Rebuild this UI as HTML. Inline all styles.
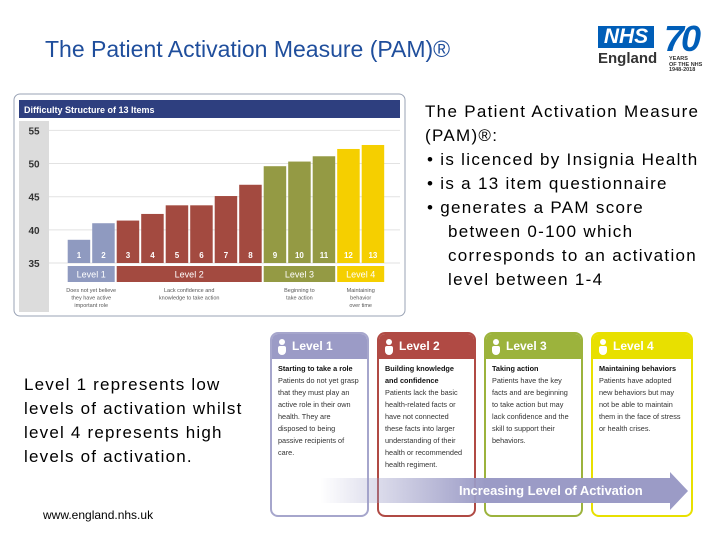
<!DOCTYPE html>
<html><head><meta charset="utf-8"><style>
body{margin:0;width:720px;height:540px;background:#fff;position:relative;overflow:hidden;font-family:"Liberation Sans",sans-serif}
.abs{position:absolute}
.card{position:absolute;top:332px;height:185px;width:99px;border:2px solid;border-radius:8px;box-sizing:border-box;background:#fff;overflow:hidden}
.card .hd{height:25px;color:#fff;font-weight:bold;font-size:12px;line-height:25px;padding-left:20px;position:relative}
.card .hd:before{content:"";position:absolute;left:7px;top:5px;width:6px;height:6px;border-radius:3px;background:#fff}
.card .hd:after{content:"";position:absolute;left:6px;top:12px;width:8px;height:9px;border-radius:2px 2px 4px 4px;background:#fff}
.card .bd{padding:4px 6px;font-size:7.3px;line-height:12px;color:#333}
.card .bd b{color:#111}
.ind{display:block;padding-left:21px}
</style></head><body>
<div class="abs" style="left:45px;top:36px;font-size:23px;color:#1f4e9c">The Patient Activation Measure (PAM)®</div>
<div class="abs" style="left:598px;top:26px;width:56px;height:22px;background:#005eb8;color:#fff;font-weight:bold;font-style:italic;font-size:21px;line-height:22px;text-align:center">NHS</div>
<div class="abs" style="left:598px;top:50px;font-size:15px;font-weight:bold;color:#333">England</div>
<div class="abs" style="left:664px;top:18px;font-size:36px;font-weight:bold;font-style:italic;color:#005eb8;letter-spacing:-3px">70</div>
<div class="abs" style="left:669px;top:57px;font-size:5.5px;line-height:5.5px;color:#333;font-weight:bold">YEARS<br>OF THE NHS<br>1948-2018</div>

<div class="abs" style="left:425px;top:100px;font-size:17px;line-height:24px;color:#000;white-space:nowrap;letter-spacing:1.3px">The Patient Activation Measure<br>(PAM)®:
<div style="padding-left:2px">•&nbsp;is licenced by Insignia Health</div>
<div style="padding-left:2px">•&nbsp;is a 13 item questionnaire</div>
<div style="padding-left:2px">•&nbsp;generates a PAM score<span class="ind">between 0-100 which</span><span class="ind">corresponds to an activation</span><span class="ind">level between 1-4</span></div></div>

<div class="abs" style="left:24px;top:373px;font-size:17px;line-height:24px;color:#000;white-space:nowrap;letter-spacing:1.2px">Level 1 represents low<br>levels of activation whilst<br>level 4 represents high<br>levels of activation.</div>
<div class="abs" style="left:43px;top:508px;font-size:12px;color:#000">www.england.nhs.uk</div>

<svg class="abs" style="left:0;top:0" width="720" height="540">
<rect x="14" y="94" width="391" height="222" rx="6" fill="#fff" stroke="#9aa3b5" stroke-width="1"/>
<rect x="19" y="100" width="381" height="18" fill="#2e3f7f"/>
<text x="24" y="113" fill="#fff" font-size="9" font-weight="bold">Difficulty Structure of 13 Items</text>
<rect x="19" y="121" width="30" height="191" fill="#dcdcdc"/>
<g id="grid"></g><g id="bars"></g><g id="levels"></g>
</svg>
<script>
const items=[1,2,3,4,5,6,7,8,9,10,11,12,13];
const values=[38.5,41,41.4,42.4,43.7,43.7,45.1,46.8,49.6,50.3,51.1,52.2,52.8];
const itemLevel=[1,1,2,2,2,2,2,2,3,3,3,4,4];
const yTicks=[35,40,45,50,55];
const levelNames=["Level 1","Level 2","Level 3","Level 4"];
const levelCaptions=[["Does not yet believe","they have active","important role"],["Lack confidence and","knowledge to take action"],["Beginning to","take action"],["Maintaining","behavior","over time"]];
const ns="http://www.w3.org/2000/svg";
const colors=["#8f9ac0","#a34a40","#949a44","#f5cf00"];
const y=v=>263-(v-35)*6.63;
const x=i=>67.7+i*24.5;
const bw=22.5;
function mk(t,a,p){const e=document.createElementNS(ns,t);for(const k in a)e.setAttribute(k,a[k]);p.appendChild(e);return e;}
const grid=document.getElementById('grid'),bars=document.getElementById('bars'),lv=document.getElementById('levels');
yTicks.forEach(t=>{
 const l=mk('line',{x1:49,x2:400,y1:y(t),y2:y(t),stroke:'#e2e2e2'},grid);
 
 
 const tx=mk('text',{x:34,y:y(t)+4,'font-size':10,'text-anchor':'middle',fill:'#333','font-weight':'bold'},grid);tx.textContent=t;
 
 
});
values.forEach((v,i)=>{
 const r=mk('rect',{x:x(i),y:y(v),width:bw,height:y(35)-y(v),fill:colors[itemLevel[i]-1]},bars);
 
 
 const t=mk('text',{x:x(i)+bw/2,y:y(35)-5,'font-size':8,'text-anchor':'middle',fill:'#fff','font-weight':'bold'},bars);t.textContent=items[i];
 
 
});
levelNames.forEach((n,li)=>{
 const idx=itemLevel.map((l,i)=>l===li+1?i:-1).filter(i=>i>=0);
 const x0=x(idx[0]),x1=x(idx[idx.length-1])+bw;
 const r=mk('rect',{x:x0,y:266,width:x1-x0,height:16,fill:colors[li]},lv);
 
 
 const t=mk('text',{x:(x0+x1)/2,y:277.5,'font-size':9,'text-anchor':'middle',fill:'#fff'},lv);t.textContent=n;
 
 
 levelCaptions[li].forEach((c,ci)=>{
  const ct=mk('text',{x:(x0+x1)/2,y:292+ci*7.5,'font-size':5.5,'text-anchor':'middle',fill:'#555'},lv);ct.textContent=c;
  
  
 });
});
</script>

<div class="card" style="left:270px;border-color:#a6a6cc"><div class="hd" style="background:#9b9bc6">Level 1</div><div class="bd"><b>Starting to take a role</b><br>Patients do not yet grasp that they must play an active role in their own health. They are disposed to being passive recipients of care.</div></div>
<div class="card" style="left:377px;border-color:#b04a44"><div class="hd" style="background:#b04a44">Level 2</div><div class="bd"><b>Building knowledge and confidence</b><br>Patients lack the basic health-related facts or have not connected these facts into larger understanding of their health or recommended health regiment.</div></div>
<div class="card" style="left:484px;border-color:#9cb33c"><div class="hd" style="background:#9cb33c">Level 3</div><div class="bd"><b>Taking action</b><br>Patients have the key facts and are beginning to take action but may lack confidence and the skill to support their behaviors.</div></div>
<div class="card" style="left:591px;border-color:#e8e000;width:102px"><div class="hd" style="background:#e8e000">Level 4</div><div class="bd"><b>Maintaining behaviors</b><br>Patients have adopted new behaviors but may not be able to maintain them in the face of stress or health crises.</div></div>

<svg class="abs" style="left:0;top:0" width="720" height="540">
<defs><linearGradient id="ag" x1="0" x2="1"><stop offset="0" stop-color="#9b9bc6" stop-opacity="0"/><stop offset="0.45" stop-color="#9b9bc6" stop-opacity="1"/><stop offset="1" stop-color="#9b9bc6"/></linearGradient></defs>
<polygon points="320,478 670,478 670,472 688,491 670,510 670,503 320,503" fill="url(#ag)"/>
<text x="459" y="495" font-size="13" font-weight="bold" fill="#fff">Increasing Level of Activation</text>
</svg>
</body></html>
